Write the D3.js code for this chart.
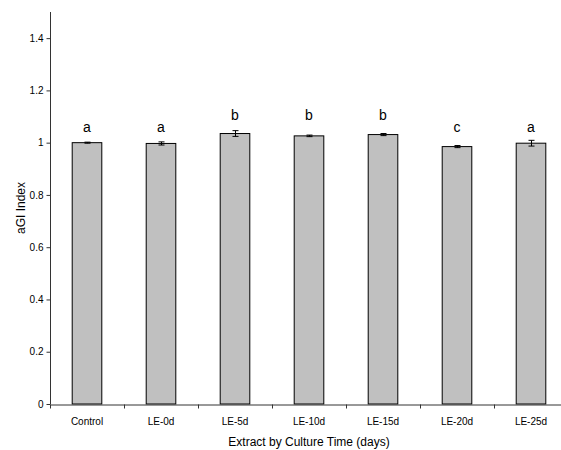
<!DOCTYPE html>
<html>
<head>
<meta charset="utf-8">
<script src="https://cdn.jsdelivr.net/npm/d3@7"></script>
<style>
  html, body { margin: 0; padding: 0; background: #fff; }
  svg { display: block; font-family: "Liberation Sans", Arial, sans-serif; }
</style>
</head>
<body>
<svg id="chart" width="561" height="450"></svg>
<script>
// aGI index by extract culture time
const categories = ["Control", "LE-0d", "LE-5d", "LE-10d", "LE-15d", "LE-20d", "LE-25d"];
const means      = [1.000, 0.997, 1.035, 1.026, 1.031, 0.985, 0.998];
const errors     = [0.002, 0.006, 0.011, 0.003, 0.004, 0.004, 0.011];
const groups     = ["a", "a", "b", "b", "b", "c", "a"];
const groupLevel = [1.040, 1.040, 1.086, 1.086, 1.086, 1.040, 1.040];
const yTicks     = [0, 0.2, 0.4, 0.6, 0.8, 1, 1.2, 1.4];

const svg = d3.select("#chart");
const plotLeft = 50, plotRight = 568, plotTop = 12, plotBottom = 404;

const x = d3.scaleBand().domain(categories).range([plotLeft, plotRight]).paddingInner(0).paddingOuter(0);
const y = d3.scaleLinear().domain([0, 1.5]).range([plotBottom, plotTop]);

const barW = x.bandwidth() * 0.4;

// bars
svg.append("g").selectAll("rect")
  .data(categories)
  .join("rect")
  .attr("x", (d) => x(d) + (x.bandwidth() - barW) / 2)
  .attr("y", (d, i) => y(means[i]))
  .attr("width", barW)
  .attr("height", (d, i) => y(0) - y(means[i]))
  .attr("fill", "#c0c0c0")
  .attr("stroke", "#000")
  .attr("stroke-width", 1);

// error bars
const eg = svg.append("g").attr("stroke", "#000").attr("stroke-width", 1);
categories.forEach((c, i) => {
  const cx = Math.round(x(c) + x.bandwidth() / 2) + 0.5;
  const y1 = y(means[i] + errors[i]), y2 = y(means[i] - errors[i]);
  eg.append("line").attr("x1", cx).attr("x2", cx).attr("y1", y1).attr("y2", y2);
  eg.append("line").attr("x1", cx - 3).attr("x2", cx + 3).attr("y1", y1).attr("y2", y1);
  eg.append("line").attr("x1", cx - 3).attr("x2", cx + 3).attr("y1", y2).attr("y2", y2);
});

// significance letters
svg.append("g").selectAll("text")
  .data(categories)
  .join("text")
  .attr("x", (d) => x(d) + x.bandwidth() / 2)
  .attr("y", (d, i) => y(groupLevel[i]))
  .attr("text-anchor", "middle")
  .attr("font-size", 14)
  .attr("fill", "#000")
  .text((d, i) => groups[i]);

// y axis
const yAxis = svg.append("g")
  .attr("transform", `translate(${plotLeft + 0.5},0)`)
  .call(d3.axisLeft(y).tickValues(yTicks).tickSize(4).tickPadding(3)
    .tickFormat((d) => d3.format("")(d)).tickSizeOuter(0));
yAxis.select(".domain").attr("stroke", "#333").attr("d", `M0,${plotTop}V${plotBottom}`);
yAxis.selectAll(".tick line").attr("stroke", "#333");
yAxis.selectAll(".tick text").attr("font-size", 10).attr("font-family", "Liberation Sans, Arial, sans-serif").attr("fill", "#000");

// x axis
const xAxis = svg.append("g")
  .attr("transform", `translate(0,${plotBottom + 0.5})`)
  .call(d3.axisBottom(x).tickSize(0).tickPadding(13).tickSizeOuter(0));
xAxis.select(".domain").attr("stroke", "#333");
xAxis.selectAll(".tick text").attr("font-size", 10).attr("font-family", "Liberation Sans, Arial, sans-serif").attr("fill", "#000");
// boundary ticks between categories
xAxis.selectAll(".sep")
  .data(categories)
  .join("line")
  .attr("class", "sep")
  .attr("x1", (d) => Math.round(x(d)) + 0.5)
  .attr("x2", (d) => Math.round(x(d)) + 0.5)
  .attr("y1", 0).attr("y2", 4)
  .attr("stroke", "#333");

// axis titles
svg.append("text")
  .attr("x", (plotLeft + plotRight) / 2)
  .attr("y", 446)
  .attr("text-anchor", "middle")
  .attr("font-size", 12)
  .text("Extract by Culture Time (days)");

svg.append("text")
  .attr("transform", `translate(25,${(plotTop + plotBottom) / 2}) rotate(-90)`)
  .attr("text-anchor", "middle")
  .attr("font-size", 12)
  .text("aGI Index");
</script>
</body>
</html>
